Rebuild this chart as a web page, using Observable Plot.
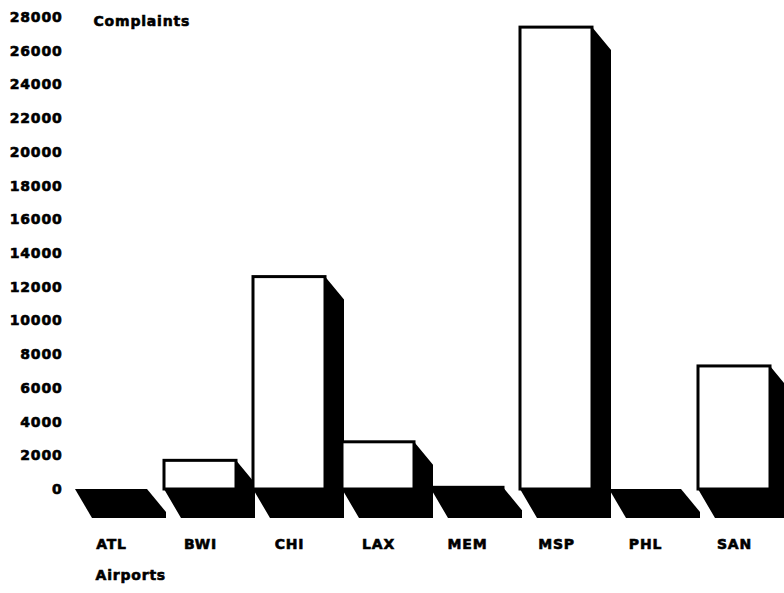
<!DOCTYPE html>
<html>
<head>
<meta charset="utf-8">
<script src="https://cdn.jsdelivr.net/npm/d3@7"></script>
<script src="https://cdn.jsdelivr.net/npm/@observablehq/plot@0.6"></script>
<style>
  body { margin: 0; background: #fff; }
  svg text { letter-spacing: 0.8px; stroke: black; stroke-width: 0.6px; }
</style>
</head>
<body>
<script>
const airports = ["ATL", "BWI", "CHI", "LAX", "MEM", "MSP", "PHL", "SAN"];
const complaints = [0, 1700, 12600, 2800, 100, 27400, 0, 7300];
const yTicks = [0, 2000, 4000, 6000, 8000, 10000, 12000, 14000, 16000, 18000, 20000, 22000, 24000, 26000, 28000];
const yTitle = "Complaints";
const xTitle = "Airports";

const data = airports.map((a, i) => ({airport: a, complaints: complaints[i]}));

// pseudo-3D depth (pixels)
const depthX = 19, depthSide = 23, depthFloor = 29, floorSlantX = 17;

function shadows(index, scales) {
  const x = scales.x, y = scales.y;
  const bw = typeof x.bandwidth === "function" ? x.bandwidth() : x.bandwidth;
  const y0 = y(0);
  const g = d3.create("svg:g");
  g.selectAll("path")
    .data(data)
    .join("path")
    .attr("fill", "black")
    .attr("d", d => {
      const xL = x(d.airport), xR = xL + bw, yT = y(d.complaints);
      return `M${xR},${yT}L${xR + depthX},${yT + depthSide}L${xR + depthX},${y0 + depthFloor}` +
             `L${xL + floorSlantX},${y0 + depthFloor}L${xL},${y0}L${xR},${y0}Z`;
    });
  return g.node();
}

const chart = Plot.plot({
  width: 784,
  height: 593,
  marginLeft: 75,
  marginRight: 13,
  marginTop: 17,
  marginBottom: 104,
  style: {fontFamily: "DejaVu Sans", fontSize: "14px", fontWeight: "bold", color: "black", background: "white"},
  x: {domain: airports, paddingInner: 0.19, paddingOuter: 0, align: 0.5, label: null, tickSize: 0, tickPadding: 50},
  y: {domain: [0, 28000], ticks: yTicks, tickFormat: d => String(d), label: null, tickSize: 0, tickPadding: 13},
  marks: [
    shadows,
    Plot.barY(data, {x: "airport", y: "complaints", fill: "white", stroke: "black", strokeWidth: 3}),
    Plot.text([yTitle], {frameAnchor: "top-left", text: d => d, dx: 18, dy: -1, textAnchor: "start", fill: "black"}),
    Plot.text([xTitle], {frameAnchor: "bottom-left", text: d => d, dx: 20, dy: 90, textAnchor: "start", fill: "black"})
  ]
});
document.body.appendChild(chart);
</script>
</body>
</html>
